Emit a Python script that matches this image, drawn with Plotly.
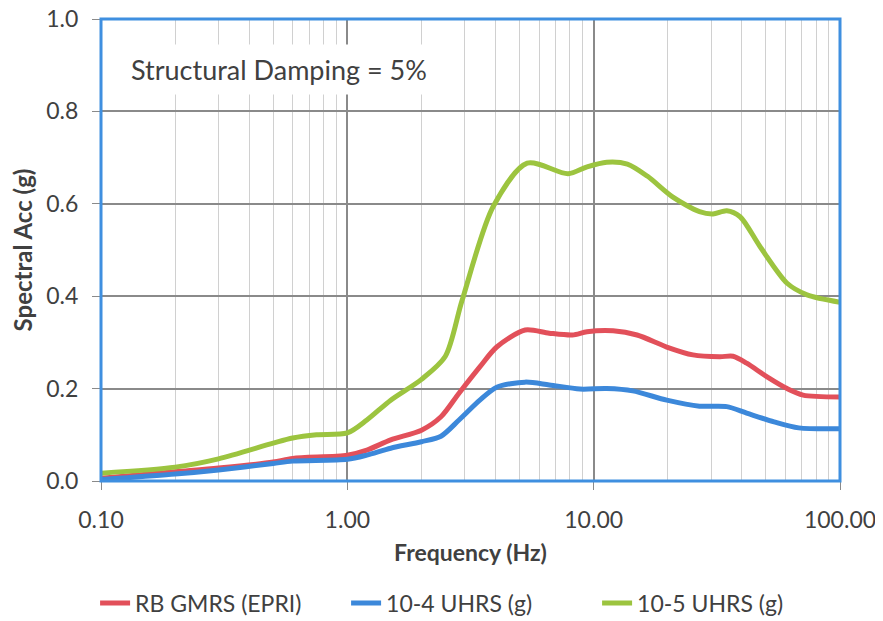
import plotly.graph_objects as go

# Data
gmrs_f = [0.1, 0.2, 0.3, 0.5, 0.6, 1.0, 1.2, 1.5, 2.0, 2.4, 2.84, 3.45, 4.04, 5.27, 6.6, 8.2, 9.4, 12.0, 15.0, 19.8, 25.3, 32.5, 36.8, 41.8, 50.4, 61.0, 70.8, 100.0]
gmrs_v = [0.006, 0.02, 0.028, 0.041, 0.049, 0.056, 0.067, 0.089, 0.11, 0.139, 0.19, 0.247, 0.29, 0.327, 0.32, 0.316, 0.323, 0.325, 0.316, 0.29, 0.273, 0.269, 0.27, 0.255, 0.226, 0.2, 0.186, 0.182]

uhrs4_f = [0.1, 0.2, 0.3, 0.5, 0.6, 1.0, 1.2, 1.5, 2.0, 2.4, 2.84, 3.45, 4.04, 5.27, 6.6, 8.8, 11.3, 14.4, 19.8, 26.9, 34.7, 41.8, 54.0, 68.0, 100.0]
uhrs4_v = [0.003, 0.015, 0.024, 0.038, 0.043, 0.047, 0.056, 0.071, 0.085, 0.097, 0.132, 0.175, 0.203, 0.214, 0.208, 0.199, 0.2, 0.195, 0.175, 0.162, 0.161, 0.147, 0.128, 0.115, 0.113]

uhrs5_f = [0.1, 0.2, 0.3, 0.5, 0.6, 0.75, 1.0, 1.2, 1.5, 2.0, 2.5, 2.92, 3.9, 5.37, 7.87, 9.4, 11.3, 13.7, 16.5, 20.9, 26.9, 30.5, 34.7, 39.3, 47.4, 61.0, 73.5, 100.0]
uhrs5_v = [0.017, 0.03, 0.048, 0.082, 0.093, 0.1, 0.104, 0.132, 0.175, 0.22, 0.27, 0.39, 0.593, 0.688, 0.665, 0.68, 0.69, 0.686, 0.66, 0.615, 0.583, 0.578, 0.585, 0.572, 0.507, 0.428, 0.403, 0.387]

x_tickvals = [0.1, 1, 10, 100]
x_ticktext = ["0.10", "1.00", "10.00", "100.00"]
y_tickvals = [0.0, 0.2, 0.4, 0.6, 0.8, 1.0]
y_ticktext = ["0.0", "0.2", "0.4", "0.6", "0.8", "1.0"]

FONT = "Lato, Open Sans, sans-serif"
TXT = "#404040"

fig = go.Figure()
series = [
    ("RB GMRS (EPRI)", gmrs_f, gmrs_v, "#e2505a"),
    ("10-4 UHRS (g)", uhrs4_f, uhrs4_v, "#3c88da"),
    ("10-5 UHRS (g)", uhrs5_f, uhrs5_v, "#9cc43f"),
]
for name, f, v, c in series:
    fig.add_trace(go.Scatter(x=f, y=v, name=name, mode="lines",
                             line=dict(color=c, width=5, shape="spline", smoothing=0.8)))

fig.update_layout(
    width=875, height=613,
    margin=dict(l=93, r=43, t=11, b=140, autoexpand=False),
    paper_bgcolor="white", plot_bgcolor="white",
    font=dict(family=FONT, color=TXT, size=22),
    showlegend=True,
    legend=dict(orientation="h", x=-0.008, xanchor="left", y=-0.264, yanchor="middle",
                font=dict(size=23, color=TXT), traceorder="normal",
                entrywidth=206, entrywidthmode="pixels"),
    xaxis=dict(
        type="log", range=[-1, 2], automargin=False,
        tickvals=x_tickvals, ticktext=x_ticktext,
        showgrid=True, gridcolor="#8a8a8a", gridwidth=1.5,
        minor=dict(dtick="D1", showgrid=True, gridcolor="#d0d0d0", gridwidth=1.2),
        ticks="outside", ticklen=8, tickcolor="#8a8a8a",
        ticklabelstandoff=10, ticklabeloverflow="allow",
        showline=False, zeroline=False,
        title=dict(text="<b>Frequency (Hz)</b>", font=dict(size=23, color=TXT), standoff=13),
        tickfont=dict(size=23),
    ),
    yaxis=dict(
        range=[0, 1.0], automargin=False,
        tickvals=y_tickvals, ticktext=y_ticktext,
        showgrid=True, gridcolor="#8a8a8a", gridwidth=1.5,
        ticks="outside", ticklen=8, tickcolor="#8a8a8a",
        ticklabelstandoff=9, ticklabeloverflow="allow",
        showline=False, zeroline=False,
        title=dict(text="<b>Spectral Acc (g)</b>", font=dict(size=24, color=TXT), standoff=8),
        tickfont=dict(size=23),
    ),
)

fig.add_shape(type="rect", xref="paper", yref="paper", x0=0, x1=1, y0=0, y1=1,
              line=dict(color="#3f8fe0", width=3), fillcolor="rgba(0,0,0,0)", layer="above")

fig.add_annotation(x=0.028, y=0.89, xref="paper", yref="paper", xanchor="left", yanchor="middle",
                   text="Structural Damping = 5%", showarrow=False,
                   font=dict(size=27, color=TXT, family=FONT),
                   bgcolor="white", borderpad=8)

fig.write_html("out.html")
